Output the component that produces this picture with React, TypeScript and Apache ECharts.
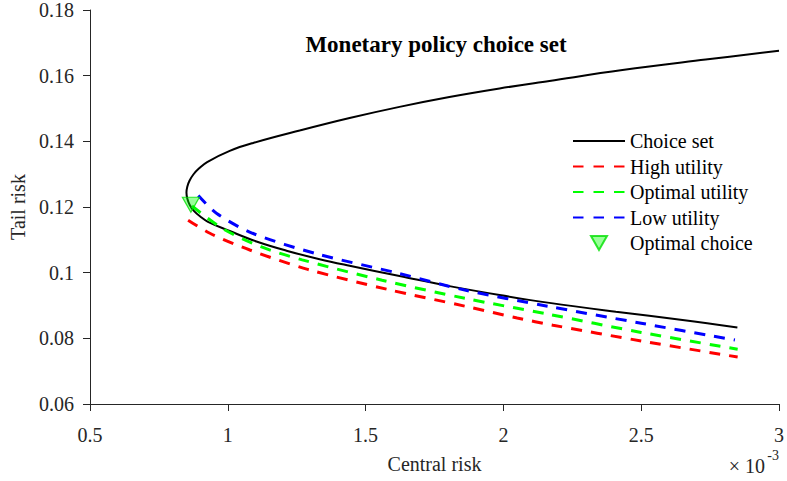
import React, { useEffect, useRef } from "react";
import * as echarts from "echarts";

// Central risk values are in units of 10^-3
const choiceSetX = [3.0, 2.734, 2.432, 2.167, 1.986, 1.804, 1.623, 1.442, 1.261, 1.092, 1.007, 0.925, 0.895, 0.875, 0.861, 0.853, 0.85, 0.853, 0.862, 0.876, 0.9, 0.928, 1.007, 1.104, 1.213, 1.333, 1.442, 1.623, 1.804, 1.986, 2.167, 2.408, 2.65, 2.849];
const choiceSetY = [0.1676, 0.1649, 0.1617, 0.1584, 0.1561, 0.1535, 0.1505, 0.1471, 0.1433, 0.1395, 0.1371, 0.1337, 0.1317, 0.1299, 0.128, 0.1262, 0.1244, 0.1226, 0.1206, 0.1189, 0.1171, 0.1155, 0.1127, 0.1095, 0.1067, 0.1041, 0.1021, 0.099, 0.0959, 0.0932, 0.0908, 0.0881, 0.0856, 0.0833];

const highUtilX = [0.856, 0.935, 1.08, 1.29, 1.58, 1.86, 2.05, 2.18, 2.5, 2.85];
const highUtilY = [0.116, 0.112, 0.1069, 0.101, 0.0949, 0.0898, 0.0862, 0.084, 0.0792, 0.0743];

const optUtilX = [0.87, 0.98, 1.12, 1.27, 1.56, 1.86, 2.16, 2.5, 2.85];
const optUtilY = [0.1203, 0.1135, 0.1079, 0.1039, 0.0977, 0.0922, 0.0874, 0.0818, 0.0767];

const lowUtilX = [0.893, 0.96, 1.09, 1.32, 1.62, 1.86, 2.16, 2.5, 2.84];
const lowUtilY = [0.1235, 0.118, 0.112, 0.1058, 0.0998, 0.0947, 0.0898, 0.0846, 0.0795];

const optimalChoiceX = [0.866];
const optimalChoiceY = [0.1207];

const xTicks = { min: 0.5, max: 3, interval: 0.5 };
const yTicks = { min: 0.06, max: 0.18, interval: 0.02 };

const zip = (xs: number[], ys: number[]) => xs.map((x, i) => [x, ys[i]]);

const FONT = "'Liberation Serif', 'Times New Roman', serif";
const AXIS_COLOR = "#262626";
const DOWN_TRIANGLE = "path://M0,0L16,0L8,14Z";

export default function App() {
  const ref = useRef<HTMLDivElement>(null);
  useEffect(() => {
    if (!ref.current) return;
    const chart = echarts.init(ref.current, undefined, { renderer: "svg" });
    const dash = [11, 9];
    const legendDash = [10.5, 10];
    const hideSymbol = { opacity: 0 };
    chart.setOption({
      animation: false,
      backgroundColor: "#ffffff",
      title: {
        text: "Monetary policy choice set",
        left: 431,
        top: 28,
        textAlign: "center",
        textStyle: { fontFamily: FONT, fontSize: 23, fontWeight: "bold", color: "#000" },
      },
      grid: { left: 90, right: 7, top: 10, bottom: 77, containLabel: false },
      legend: {
        left: 572,
        top: 131,
        padding: 0,
        orient: "vertical",
        itemWidth: 52,
        itemHeight: 14,
        itemGap: 5.5,
        textStyle: { fontFamily: FONT, fontSize: 20, color: "#000", lineHeight: 20 },
        data: [
          { name: "Choice set", itemStyle: hideSymbol },
          { name: "High utility", itemStyle: hideSymbol, lineStyle: { type: legendDash } },
          { name: "Optimal utility", itemStyle: hideSymbol, lineStyle: { type: legendDash } },
          { name: "Low utility", itemStyle: hideSymbol, lineStyle: { type: legendDash } },
          { name: "Optimal choice" },
        ],
      },
      xAxis: {
        type: "value",
        min: xTicks.min,
        max: xTicks.max,
        interval: xTicks.interval,
        name: "Central risk",
        nameLocation: "middle",
        nameGap: 50,
        nameTextStyle: { fontFamily: FONT, fontSize: 20, color: AXIS_COLOR },
        splitLine: { show: false },
        axisLine: { lineStyle: { color: AXIS_COLOR, width: 1 } },
        axisTick: { length: 7, lineStyle: { color: AXIS_COLOR } },
        axisLabel: { fontFamily: FONT, fontSize: 20, color: AXIS_COLOR, margin: 21 },
      },
      yAxis: {
        type: "value",
        min: yTicks.min,
        max: yTicks.max,
        interval: yTicks.interval,
        name: "Tail risk",
        nameLocation: "middle",
        nameGap: 57,
        nameRotate: 90,
        nameTextStyle: { fontFamily: FONT, fontSize: 20, color: AXIS_COLOR },
        splitLine: { show: false },
        axisLine: { show: true, lineStyle: { color: AXIS_COLOR, width: 1 } },
        axisTick: { show: true, length: 7, lineStyle: { color: AXIS_COLOR } },
        axisLabel: { fontFamily: FONT, fontSize: 20, color: AXIS_COLOR, margin: 16 },
      },
      graphic: [
        {
          type: "text",
          right: 22,
          top: 456,
          style: { text: "× 10", fontFamily: FONT, fontSize: 20, fill: AXIS_COLOR },
        },
        {
          type: "text",
          right: 8,
          top: 448,
          style: { text: "-3", fontFamily: FONT, fontSize: 14, fill: AXIS_COLOR },
        },
      ],
      series: [
        {
          name: "Choice set",
          type: "line",
          data: zip(choiceSetX, choiceSetY),
          symbol: "none",
          smooth: 0.4,
          lineStyle: { color: "#000", width: 2 },
          itemStyle: { color: "#000" },
        },
        {
          name: "High utility",
          type: "line",
          data: zip(highUtilX, highUtilY),
          symbol: "none",
          smooth: 0.3,
          lineStyle: { color: "#ff0000", width: 3, type: dash },
          itemStyle: { color: "#ff0000" },
        },
        {
          name: "Optimal utility",
          type: "line",
          data: zip(optUtilX, optUtilY),
          symbol: "none",
          smooth: 0.3,
          lineStyle: { color: "#00ff00", width: 3, type: dash },
          itemStyle: { color: "#00ff00" },
        },
        {
          name: "Low utility",
          type: "line",
          data: zip(lowUtilX, lowUtilY),
          symbol: "none",
          smooth: 0.3,
          lineStyle: { color: "#0000ff", width: 3, type: dash },
          itemStyle: { color: "#0000ff" },
        },
        {
          name: "Optimal choice",
          type: "scatter",
          data: zip(optimalChoiceX, optimalChoiceY),
          symbol: DOWN_TRIANGLE,
          symbolSize: [17, 15],
          itemStyle: { color: "rgba(0,255,0,0.5)", borderColor: "#00e000", borderWidth: 1.2 },
          z: 5,
        },
      ],
    });
    return () => chart.dispose();
  }, []);
  return (
    <div
      ref={ref}
      style={{ position: "absolute", left: 0, top: 0, width: 787, height: 481 }}
    />
  );
}
